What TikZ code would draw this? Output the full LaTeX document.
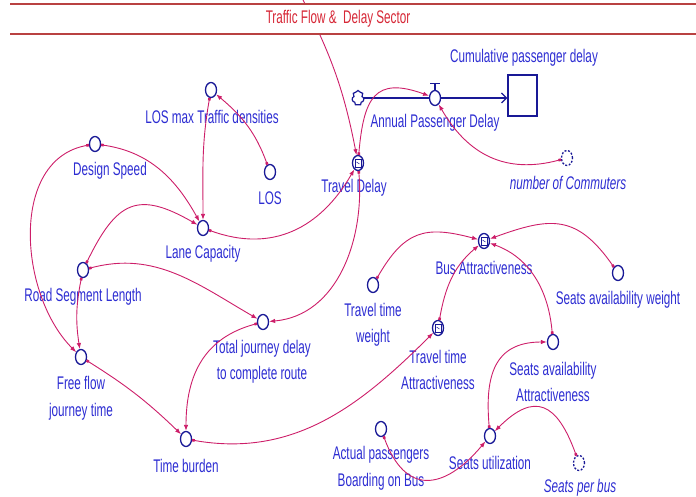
\documentclass[tikz,border=0pt]{standalone}
\usepackage{fontspec}
\setmainfont{Liberation Sans}[FakeStretch=0.64]
\usepackage{tikz}
\usetikzlibrary{
  arrows.meta,
  shapes.geometric,
  shapes.symbols
}
\definecolor{varnavy}{RGB}{25, 25, 150}
\definecolor{labblue}{RGB}{45, 45, 210}
\definecolor{linkred}{RGB}{205, 30, 105}
\definecolor{sectred}{RGB}{215, 40, 55}
\definecolor{bandred}{RGB}{185, 65, 65}
\tikzset{
  % O'zgaruvchilar
  auxvar/.style    = {ellipse, draw=varnavy, line width=1.3pt, fill=white,
                      minimum width=11pt, minimum height=15pt, inner sep=0pt},
  shadowvar/.style = {auxvar, dash pattern=on 2pt off 1.6pt},
  lookupvar/.style = {auxvar, path picture={
      \draw[varnavy, line width=0.7pt]
        ([xshift=-3pt,yshift=-4pt]path picture bounding box.center) rectangle
        ([xshift=3pt,yshift=4pt]path picture bounding box.center);
      \draw[varnavy, line width=0.5pt]
        ([xshift=-1.5pt,yshift=1pt]path picture bounding box.center) --
        ([xshift=1.5pt,yshift=-1pt]path picture bounding box.center);}},
  stockbox/.style  = {rectangle, draw=varnavy, line width=1.3pt,
                      minimum width=29pt, minimum height=41pt, inner sep=0pt},
  srccloud/.style  = {cloud, cloud puffs=7, cloud ignores aspect, draw=varnavy,
                      line width=1.2pt, minimum width=12pt, minimum height=15pt,
                      inner sep=0pt},
  pipe/.style      = {draw=varnavy, line width=2pt,
                      -{Straight Barb[length=5pt,width=10pt,line width=1.2pt]}},
  % Bog'lanishlar
  link/.style      = {draw=linkred, line width=0.9pt,
                      arrows={Square[length=2.6pt,width=2.6pt]-Latex[length=6pt,width=4.5pt]}},
  linkin/.style    = {link, arrows={-Latex[length=6pt,width=4.5pt]}},
  % Yozuvlar
  varlab/.style    = {text=labblue, font=\fontsize{18.3}{26.5}\selectfont,
                      align=center, inner sep=0pt},
  shadowlab/.style = {varlab, font=\fontsize{18.3}{26.5}\selectfont\itshape},
  sectlab/.style   = {text=sectred, font=\fontsize{18.3}{22}\selectfont, inner sep=0pt},
  bandline/.style  = {draw=bandred, line width=1.8pt},
}

\begin{document}
\begin{tikzpicture}[x=1pt, y=1pt]
  \useasboundingbox (0,0) rectangle (696,497);
  % tashqi sektordan keladigan bog'lanish
  \coordinate (extin) at (303,497);

  % O'zgaruvchilar
  \node[auxvar]    (losmax)  at (211,407) {};
  \node[auxvar]    (los)     at (270,325) {};
  \node[auxvar]    (dspeed)  at (95,353)  {};
  \node[auxvar]    (lanecap) at (203,269) {};
  \node[lookupvar] (tdelay)  at (358,334) {};
  \node[shadowvar] (ncomm)   at (567,339) {};
  \node[auxvar]    (rsl)     at (83,227)  {};
  \node[auxvar]    (ffjt)    at (81,140)  {};
  \node[auxvar]    (tjd)     at (263,175) {};
  \node[auxvar]    (tburden) at (186,58)  {};
  \node[lookupvar] (busatt)  at (484,256) {};
  \node[auxvar]    (saw)     at (618,224) {};
  \node[auxvar]    (ttw)     at (373,212) {};
  \node[lookupvar] (tta)     at (438,169) {};
  \node[auxvar]    (saa)     at (553,155) {};
  \node[auxvar]    (sutil)   at (490,61)  {};
  \node[auxvar]    (apb)     at (381,68)  {};
  \node[shadowvar] (spb)     at (579,34)  {};

  % Oqim va zaxira
  \node[srccloud] (src)      at (358,399)   {};
  \node[stockbox] (cumdelay) at (522.5,401.5) {};
  \draw[pipe] (src.east) -- (src.east -| cumdelay.west);
  \node[auxvar] (valve) at (435,399) {};
  \draw[varnavy, line width=1.3pt] (valve.north) -- ++(0,6) coordinate (vtop);
  \draw[varnavy, line width=1.3pt] ([xshift=-5pt]vtop) -- ([xshift=5pt]vtop);

  % Yozuvlar
  \node[varlab] (l-losmax)  at (212,380) {LOS max Traffic densities};
  \node[varlab] (l-los)     at (270,299) {LOS};
  \node[varlab] (l-dspeed)  at (110,326) {Design Speed};
  \node[varlab] (l-lanecap) at (203,243) {Lane Capacity};
  \node[varlab] (l-tdelay)  at (354,309) {Travel Delay};
  \node[varlab] (l-valve)   at (435,374) {Annual Passenger Delay};
  \node[varlab] (l-cum)     at (524,439) {Cumulative passenger delay};
  \node[shadowlab] (l-ncomm) at (568,314) {number of Commuters};
  \node[varlab] (l-rsl)     at (83,200)  {Road Segment Length};
  \node[varlab] (l-ffjt)    at (81,98.5) {Free flow\\journey time};
  \node[varlab] (l-tjd)     at (262,135) {Total journey delay\\to complete route};
  \node[varlab] (l-tburden) at (186,31)  {Time burden};
  \node[varlab] (l-busatt)  at (484,229) {Bus Attractiveness};
  \node[varlab] (l-saw)     at (618,197) {Seats availability weight};
  \node[varlab] (l-ttw)     at (373,172) {Travel time\\weight};
  \node[varlab] (l-tta)     at (438,127) {Travel time\\Attractiveness};
  \node[varlab] (l-saa)     at (553,115) {Seats availability\\Attractiveness};
  \node[varlab] (l-sutil)   at (490,34)  {Seats utilization};
  \node[varlab] (l-apb)     at (381,28.5) {Actual passengers\\Boarding on Bus};
  \node[shadowlab] (l-spb)  at (580,9)   {Seats per bus};

  % Bog'lanishlar
  \draw[link] (los)     to[out=110, in=-40]  (losmax);
  \draw[link] (losmax)  to[out=-100, in=90]  (lanecap);
  \draw[link] (dspeed)  to[out=-8, in=119]   (lanecap);
  \draw[link] (dspeed)  to[out=190, in=135]  (ffjt);
  \draw[link] (rsl)     to[out=64, in=150, looseness=1.5] (lanecap);
  \draw[link] (lanecap) to[out=-20, in=-120, looseness=1.1] (tdelay);
  \draw[link] (rsl)     to[out=15, in=150]   (tjd);
  \draw[link] (tdelay)  to[out=-85, in=5]    (tjd);
  \draw[link] (rsl)     to[bend right=10]    (ffjt);
  \draw[link] (ffjt)    to[bend left=6]      (tburden);
  \draw[link] (tjd)     to[out=195, in=90, looseness=1.1] (tburden);
  \draw[link] (tburden) to[out=-10, in=225]  (tta);
  \draw[link] (ttw)     to[out=60, in=165, looseness=1.3] (busatt);
  \draw[link] (tta)     to[out=80, in=220]   (busatt);
  \draw[link] (saw)     to[out=125, in=20, looseness=1.3] (busatt);
  \draw[link] (saa)     to[out=95, in=-20]   (busatt);
  \draw[link] (sutil)   to[out=95, in=180, looseness=1.3] (saa);
  \draw[link] (spb)     to[out=110, in=45, looseness=1.7] (sutil);
  \draw[link] (apb)     to[out=-70, in=230, looseness=1.6] (sutil);
  \draw[link] (tdelay)  to[out=85, in=160, looseness=1.6] (valve);
  \draw[link] (ncomm)   to[out=195, in=-60, looseness=1.1] (valve);
  \draw[linkin] (extin) to[bend left=8] (tdelay);

  % Sarlavha
  \fill[white] (10,463) rectangle (696,493);
  \draw[bandline] (10,493) -- (696,493);
  \draw[bandline] (10,463) -- (696,463);
  \node[sectlab] (sector) at (338,478) {Traffic Flow \&\ \ Delay Sector};
\end{tikzpicture}
\end{document}
